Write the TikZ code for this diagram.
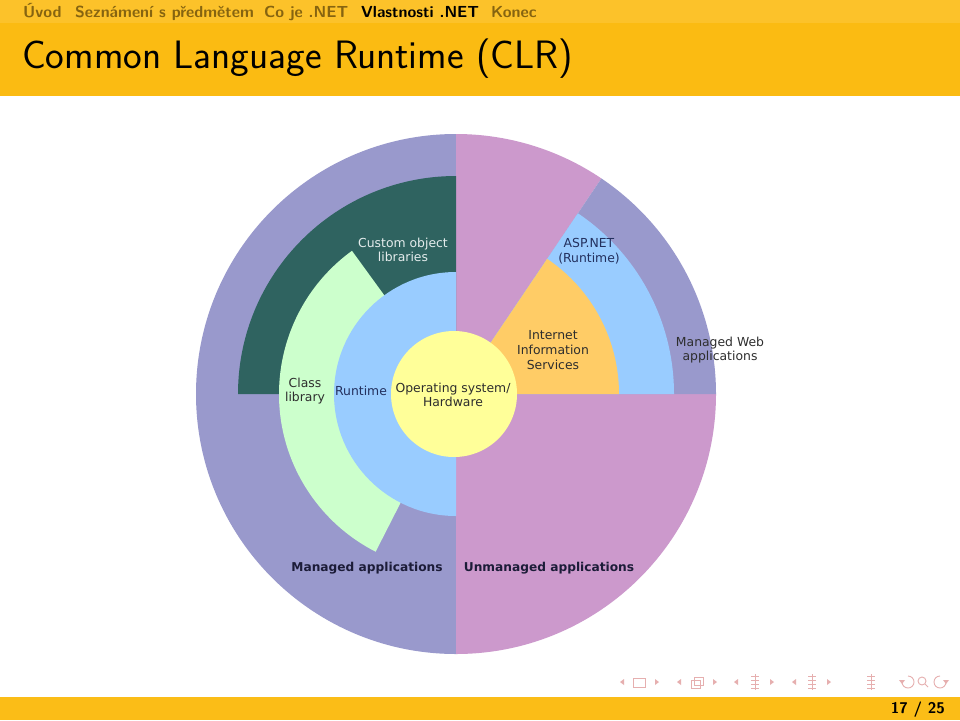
\documentclass[tikz,border=0pt]{standalone}
\usepackage{fontspec}
\newfontfamily\dejavu{DejaVu Sans}
\definecolor{navbar}{HTML}{FCC22A}
\definecolor{titlebar}{HTML}{FBBB12}
\definecolor{footbar}{HTML}{FBBD17}
\definecolor{navmuted}{HTML}{866410}
\definecolor{symcol}{HTML}{E6AFAF}
\definecolor{mpurple}{HTML}{9999CC}
\definecolor{upink}{HTML}{CC99CC}
\definecolor{aspblue}{HTML}{99CCFF}
\definecolor{iisorange}{HTML}{FFCC66}
\definecolor{dkgreen}{HTML}{2F6360}
\definecolor{ltgreen}{HTML}{CCFFCC}
\definecolor{osyellow}{HTML}{FFFF99}
\definecolor{txtgray}{HTML}{2E2E2E}
\definecolor{navyblue}{HTML}{23305E}
\definecolor{ltgray}{HTML}{E4ECEC}
\definecolor{boldnavy}{HTML}{1C1C38}
\begin{document}
\begin{tikzpicture}[x=1pt,y=-1pt,
  lab/.style={font=\dejavu\fontsize{12.4}{14.6}\selectfont, align=center, inner sep=0pt, text=txtgray},
  blab/.style={font=\dejavu\bfseries\fontsize{12.2}{14.6}\selectfont, inner sep=0pt, text=boldnavy},
  navtxt/.style={font=\sffamily\bfseries\fontsize{16}{18}\selectfont, anchor=base west, inner sep=0pt, text=navmuted},
  navsym/.style={draw=symcol, line width=0.9pt},
  navtri/.style={fill=symcol}
]
\useasboundingbox (0,0) rectangle (960,720);
\fill[white] (0,0) rectangle (960,720);
% header and footer bars
\fill[navbar] (0,0) rectangle (960,23);
\fill[titlebar] (0,23) rectangle (960,96);
\fill[footbar] (0,697) rectangle (960,720);
% section navigation
\node[navtxt] (s1) at (23,17) {Úvod};
\node[navtxt] (s2) at (75,17) {Seznámení s předmětem};
\node[navtxt] (s3) at (264,17) {Co je .NET};
\node[navtxt, text=black] (s4) at (361,17) {Vlastnosti .NET};
\node[navtxt] (s5) at (491,17) {Konec};
% title
\node[font=\sffamily\fontsize{39.6}{46}\selectfont, anchor=base west, inner sep=0pt] (title) at (22,68) {Common Language Runtime (CLR)};
% diagram
\begin{scope}[shift={(456,394)}, yscale=-1]
  \fill[mpurple] (0,0) -- (90:260) arc[start angle=90,end angle=270,radius=260] -- cycle;
  \fill[upink] (0,0) -- (270:260) arc[start angle=270,end angle=360,radius=260] -- cycle;
  \fill[upink] (0,0) -- (56:260) arc[start angle=56,end angle=90,radius=260] -- cycle;
  \fill[mpurple] (0,0) -- (0:260) arc[start angle=0,end angle=56,radius=260] -- cycle;
  \fill[aspblue] (0,0) -- (0:218) arc[start angle=0,end angle=56,radius=218] -- cycle;
  \fill[iisorange] (0,0) -- (0:163) arc[start angle=0,end angle=56,radius=163] -- cycle;
  \fill[dkgreen] (0,0) -- (90:218) arc[start angle=90,end angle=180,radius=218] -- cycle;
  \fill[ltgreen] (0,0) -- (126:177) arc[start angle=126,end angle=243,radius=177] -- cycle;
  \fill[aspblue] (0,0) -- (90:122) arc[start angle=90,end angle=270,radius=122] -- cycle;
  \fill[osyellow] (-2,0) circle[radius=63];
\end{scope}
% labels
\node[lab, text=ltgray] (col) at (403,250) {Custom object\\libraries};
\node[lab, text=navyblue] (asp) at (589,251) {ASP.NET\\(Runtime)};
\node[lab] (iis) at (553,350) {Internet\\Information\\Services};
\node[lab] (mweb) at (720,350) {Managed Web\\applications};
\node[lab] (cls) at (305,391) {Class\\library};
\node[lab, text=navyblue] (rt) at (361,391) {Runtime};
\node[lab] (os) at (453,395) {Operating system/\\Hardware};
\node[blab] (mapp) at (367,568) {Managed applications};
\node[blab] (uapp) at (549,568) {Unmanaged applications};
% page number
\node[font=\sffamily\bfseries\fontsize{15.5}{18}\selectfont, anchor=base east, inner sep=0pt] (pg) at (945,713) {17 / 25};
% navigation symbols
\foreach \x in {622,679,736,794} {
  \fill[navtri] (\x+2,679) -- (\x-2,682) -- (\x+2,685) -- cycle;
}
\foreach \x in {657,715,772,829} {
  \fill[navtri] (\x-2,679) -- (\x+2,682) -- (\x-2,685) -- cycle;
}
\draw[navsym] (633,678) rectangle (645,687);
\draw[navsym] (691,680) rectangle (700,688);
\draw[navsym] (694,677) rectangle (703,685);
\foreach \x in {755,812,871} {
  \draw[navsym, line width=0.6pt] (\x-4,676) -- (\x+4,676);
  \draw[navsym, line width=0.6pt] (\x-4,680) -- (\x+4,680);
  \draw[navsym, line width=0.6pt] (\x-4,684) -- (\x+4,684);
  \draw[navsym, line width=0.6pt] (\x-4,688) -- (\x+4,688);
  \draw[navsym, line width=0.6pt] (\x,674) -- (\x,690);
}
\draw[navsym] (902,682) arc[start angle=180,end angle=-90,radius=6];
\fill[navtri] (899,680) -- (905,680) -- (902,684) -- cycle;
\draw[navsym] (922,681) circle[radius=4];
\draw[navsym] (925,684) -- (928,687);
\draw[navsym] (946,682) arc[start angle=0,end angle=270,radius=6];
\fill[navtri] (943,680) -- (949,680) -- (946,684) -- cycle;
\end{tikzpicture}
\end{document}
